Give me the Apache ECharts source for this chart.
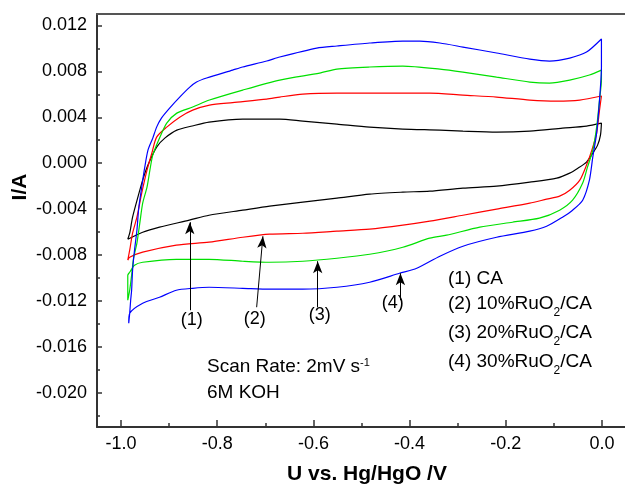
<!DOCTYPE html>
<html>
<head>
<meta charset="utf-8">
<script src="https://cdn.jsdelivr.net/npm/echarts@6/dist/echarts.min.js"></script>
<style>
  html, body { margin: 0; padding: 0; background: #fff; }
  #chart-container { width: 625px; height: 484px; }
</style>
</head>
<body>
<div id="chart-container"></div>
<script>
// cyclic voltammograms, [U (V), I (A)], anodic branch then cathodic branch
const curveCA = [
  [-0.986, -0.00663], [-0.982, -0.00611], [-0.976, -0.00471], [-0.965, -0.00297], [-0.955, -0.00148],
  [-0.944, -0.00017], [-0.926, 0.00140], [-0.909, 0.00218], [-0.884, 0.00288], [-0.852, 0.00324],
  [-0.817, 0.00358], [-0.747, 0.00384], [-0.670, 0.00384], [-0.622, 0.00366], [-0.551, 0.00340],
  [-0.483, 0.00314], [-0.414, 0.00297], [-0.337, 0.00288], [-0.289, 0.00279], [-0.219, 0.00270],
  [-0.150, 0.00279], [-0.082, 0.00305], [-0.032, 0.00323], [-0.001, 0.00349],
  [-0.003, 0.00244], [-0.009, 0.00157], [-0.019, 0.00087], [-0.032, 0.00009], [-0.050, -0.00044],
  [-0.067, -0.00087], [-0.094, -0.00131], [-0.150, -0.00166], [-0.219, -0.00201], [-0.289, -0.00218],
  [-0.358, -0.00244], [-0.414, -0.00253], [-0.483, -0.00270], [-0.551, -0.00305], [-0.622, -0.00340],
  [-0.691, -0.00375], [-0.747, -0.00410], [-0.817, -0.00454], [-0.858, -0.00497], [-0.920, -0.00558],
  [-0.955, -0.00602], [-0.986, -0.00663]
];
const curveRu10 = [
  [-0.986, -0.00846], [-0.982, -0.00759], [-0.976, -0.00611], [-0.967, -0.00471], [-0.957, -0.00262],
  [-0.946, -0.00061], [-0.936, 0.00087], [-0.926, 0.00227], [-0.905, 0.00314], [-0.878, 0.00401],
  [-0.851, 0.00462], [-0.816, 0.00506], [-0.768, 0.00528], [-0.697, 0.00558], [-0.670, 0.00576],
  [-0.622, 0.00602], [-0.551, 0.00611], [-0.483, 0.00611], [-0.414, 0.00611], [-0.358, 0.00611],
  [-0.289, 0.00593], [-0.219, 0.00576], [-0.150, 0.00550], [-0.094, 0.00541], [-0.046, 0.00550],
  [-0.001, 0.00585],
  [-0.005, 0.00462], [-0.011, 0.00262], [-0.021, 0.00113], [-0.032, -0.00017], [-0.046, -0.00148],
  [-0.067, -0.00236], [-0.088, -0.00288], [-0.115, -0.00314], [-0.150, -0.00349], [-0.219, -0.00401],
  [-0.289, -0.00454], [-0.358, -0.00506], [-0.414, -0.00541], [-0.483, -0.00576], [-0.551, -0.00593],
  [-0.622, -0.00611], [-0.691, -0.00619], [-0.747, -0.00646], [-0.817, -0.00689], [-0.885, -0.00715],
  [-0.955, -0.00776], [-0.982, -0.00820], [-0.986, -0.00846]
];
const curveRu20 = [
  [-0.986, -0.01195], [-0.982, -0.01108], [-0.978, -0.00977], [-0.974, -0.00829], [-0.967, -0.00698],
  [-0.961, -0.00523], [-0.955, -0.00349], [-0.946, -0.00209], [-0.940, -0.00061], [-0.934, 0.00070],
  [-0.919, 0.00227], [-0.905, 0.00349], [-0.884, 0.00436], [-0.851, 0.00489], [-0.816, 0.00550],
  [-0.747, 0.00637], [-0.670, 0.00724], [-0.587, 0.00785], [-0.551, 0.00820], [-0.483, 0.00838],
  [-0.414, 0.00846], [-0.337, 0.00820], [-0.289, 0.00794], [-0.219, 0.00750], [-0.150, 0.00707],
  [-0.109, 0.00698], [-0.067, 0.00724], [-0.026, 0.00768], [-0.001, 0.00811],
  [-0.001, 0.00724], [-0.005, 0.00550], [-0.011, 0.00314], [-0.019, 0.00113], [-0.030, -0.00035],
  [-0.040, -0.00174], [-0.061, -0.00323], [-0.088, -0.00410], [-0.130, -0.00480], [-0.186, -0.00515],
  [-0.254, -0.00558], [-0.323, -0.00628], [-0.358, -0.00654], [-0.414, -0.00733], [-0.483, -0.00794],
  [-0.551, -0.00829], [-0.622, -0.00855], [-0.691, -0.00864], [-0.747, -0.00855], [-0.817, -0.00838],
  [-0.885, -0.00838], [-0.955, -0.00864], [-0.972, -0.00890], [-0.982, -0.00951], [-0.986, -0.00977],
  [-0.986, -0.01195]
];
const curveRu30 = [
  [-0.984, -0.01396], [-0.982, -0.01309], [-0.980, -0.01195], [-0.978, -0.01108], [-0.976, -0.00933],
  [-0.972, -0.00759], [-0.967, -0.00585], [-0.963, -0.00384], [-0.957, -0.00209], [-0.951, -0.00044],
  [-0.944, 0.00113], [-0.934, 0.00218], [-0.926, 0.00314], [-0.916, 0.00393], [-0.899, 0.00480],
  [-0.878, 0.00576], [-0.857, 0.00663], [-0.843, 0.00707], [-0.822, 0.00742], [-0.768, 0.00811],
  [-0.747, 0.00838], [-0.697, 0.00890], [-0.670, 0.00925], [-0.593, 0.01003], [-0.551, 0.01021],
  [-0.483, 0.01047], [-0.414, 0.01064], [-0.379, 0.01064], [-0.337, 0.01047], [-0.289, 0.01012],
  [-0.219, 0.00960], [-0.150, 0.00907], [-0.109, 0.00890], [-0.067, 0.00916], [-0.032, 0.00968],
  [-0.001, 0.01082],
  [-0.001, 0.00837], [-0.005, 0.00550], [-0.011, 0.00262], [-0.019, 0.00052], [-0.026, -0.00148],
  [-0.040, -0.00323], [-0.061, -0.00410], [-0.082, -0.00471], [-0.115, -0.00550], [-0.150, -0.00593],
  [-0.219, -0.00646], [-0.289, -0.00724], [-0.337, -0.00811], [-0.385, -0.00916], [-0.421, -0.00960],
  [-0.483, -0.01038], [-0.551, -0.01082], [-0.622, -0.01099], [-0.691, -0.01099], [-0.747, -0.01091],
  [-0.817, -0.01082], [-0.851, -0.01091], [-0.885, -0.01108], [-0.920, -0.01169], [-0.955, -0.01221],
  [-0.982, -0.01309], [-0.984, -0.01396]
];

// arrows pointing at each curve: [tail, head]
const arrowLines = [
  [[-0.857, -0.01282], [-0.857, -0.00515]],
  [[-0.718, -0.01256], [-0.705, -0.00637]],
  [[-0.591, -0.01256], [-0.591, -0.00855]],
  [[-0.419, -0.01195], [-0.419, -0.00960]]
];
const arrowLabelPos = [[-0.853, -0.01370], [-0.722, -0.01361], [-0.587, -0.01326], [-0.435, -0.01221]];
const arrowLabelText = ['(1)', '(2)', '(3)', '(4)'];

const xTicks = [-1.0, -0.8, -0.6, -0.4, -0.2, 0.0];
const xMinorTicks = [-0.9, -0.7, -0.5, -0.3, -0.1];
const yTicks = [-0.020, -0.016, -0.012, -0.008, -0.004, 0.000, 0.004, 0.008, 0.012];
const yMinorTicks = [-0.022, -0.018, -0.014, -0.010, -0.006, -0.002, 0.002, 0.006, 0.010];

const legendLines = [
  ['(1) CA', '', ''],
  ['(2) 10%RuO', '2', '/CA'],
  ['(3) 20%RuO', '2', '/CA'],
  ['(4) 30%RuO', '2', '/CA']
];

const FONT = '"Liberation Sans", Arial, Helvetica, sans-serif';
const axisColor = '#333333';

const chartContainer = document.getElementById('chart-container');
const myChart = echarts.init(chartContainer, null, { renderer: 'canvas' });

const legendY = [280, 305, 334, 363];
const graphics = legendLines.map((l, i) => ({
    type: 'text',
    x: 448,
    y: legendY[i] - 11,
    style: {
        text: l[1] ? `{t|${l[0]}}{s|${l[1]}}{t|${l[2]}}` : `{t|${l[0]}}`,
        rich: {
            t: { fontSize: 19, fontFamily: FONT, fill: '#000', lineHeight: 22, verticalAlign: 'top' },
            s: { fontSize: 12, fontFamily: FONT, fill: '#000', lineHeight: 12, padding: [13, 0, 0, 0], verticalAlign: 'top' }
        },
        verticalAlign: 'top'
    }
}));

graphics.push({
    type: 'text',
    x: 207,
    y: 368 - 11,
    style: {
        text: '{t|Scan Rate: 2mV s}{s|-1}',
        rich: {
            t: { fontSize: 19, fontFamily: FONT, fill: '#000', lineHeight: 22, verticalAlign: 'top' },
            s: { fontSize: 11, fontFamily: FONT, fill: '#000', lineHeight: 12, verticalAlign: 'top' }
        },
        verticalAlign: 'top'
    }
});
graphics.push({
    type: 'text', x: 207, y: 393,
    style: { text: '6M KOH', font: '19px ' + FONT, fill: '#000', verticalAlign: 'middle' }
});
graphics.push({
    type: 'text', x: 367, y: 474,
    style: { text: 'U vs. Hg/HgO /V', font: 'bold 21px ' + FONT, fill: '#000', align: 'center', verticalAlign: 'middle' }
});
graphics.push({
    type: 'text', x: 20, y: 187, rotation: Math.PI / 2,
    style: { text: 'I/A', font: 'bold 21px ' + FONT, fill: '#000', align: 'center', verticalAlign: 'middle' }
});

const curveSeries = (name, data, color) => ({
    name: name,
    type: 'line',
    xAxisIndex: 0,
    yAxisIndex: 0,
    data: data,
    showSymbol: false,
    symbol: 'none',
    smooth: 0.25,
    lineStyle: { color: color, width: 1.2 },
    z: 3
});

const options = {
    animation: false,
    backgroundColor: '#ffffff',
    grid: { left: 97, right: 0, top: 14, bottom: 57 },
    xAxis: [
        {
            type: 'value', min: -1.05, max: 0.048, position: 'bottom',
            axisLine: { show: true, onZero: false, lineStyle: { color: axisColor, width: 2 } },
            axisTick: { show: true, inside: true, length: 7, customValues: xTicks, lineStyle: { color: axisColor, width: 1.5 } },
            axisLabel: {
                customValues: xTicks, formatter: v => v.toFixed(1),
                fontSize: 18, fontFamily: FONT, color: '#000', margin: 8
            },
            splitLine: { show: false }
        },
        {
            type: 'value', min: -1.05, max: 0.048, position: 'bottom',
            axisLine: { show: false, onZero: false },
            axisTick: { show: true, inside: true, length: 4, customValues: xMinorTicks, lineStyle: { color: axisColor, width: 1.5 } },
            axisLabel: { show: false },
            splitLine: { show: false }
        },
        {
            type: 'value', min: -1.05, max: 0.048, position: 'top',
            axisLine: { show: true, onZero: false, lineStyle: { color: '#555555', width: 2 } },
            axisTick: { show: false },
            axisLabel: { show: false },
            splitLine: { show: false }
        }
    ],
    yAxis: [
        {
            type: 'value', min: -0.023, max: 0.013, position: 'left',
            axisLine: { show: true, onZero: false, lineStyle: { color: axisColor, width: 2 } },
            axisTick: { show: true, inside: true, length: 5, customValues: yTicks, lineStyle: { color: axisColor, width: 1.5 } },
            axisLabel: {
                customValues: yTicks, formatter: v => v.toFixed(3),
                fontSize: 18, fontFamily: FONT, color: '#000', margin: 10
            },
            splitLine: { show: false }
        },
        {
            type: 'value', min: -0.023, max: 0.013, position: 'left',
            axisLine: { show: false, onZero: false },
            axisTick: { show: true, inside: true, length: 3, customValues: yMinorTicks, lineStyle: { color: axisColor, width: 1.5 } },
            axisLabel: { show: false },
            splitLine: { show: false }
        }
    ],
    series: [
        curveSeries('(1) CA', curveCA, '#000000'),
        curveSeries('(2) 10%RuO2/CA', curveRu10, '#ff0000'),
        curveSeries('(3) 20%RuO2/CA', curveRu20, '#00e000'),
        curveSeries('(4) 30%RuO2/CA', curveRu30, '#0000ff'),
        {
            name: 'arrows',
            type: 'line',
            data: [],
            markLine: {
                silent: true,
                symbol: ['none', 'arrow'],
                symbolSize: [7, 12],
                label: { show: false },
                lineStyle: { color: '#000', width: 1, type: 'solid' },
                data: arrowLines.map(a => [{ coord: a[0] }, { coord: a[1] }])
            }
        },
        {
            name: 'arrow labels',
            type: 'scatter',
            symbolSize: 0,
            data: arrowLabelPos,
            itemStyle: { color: '#000000', opacity: 1 },
            label: {
                show: true, position: 'inside',
                formatter: p => arrowLabelText[p.dataIndex],
                fontSize: 18, fontFamily: FONT, color: '#000000',
                textBorderWidth: 0, textBorderColor: 'transparent'
            }
        }
    ],
    graphic: graphics
};

myChart.setOption(options);

window.addEventListener('resize', function () {
    myChart.resize();
});
</script>
</body>
</html>
